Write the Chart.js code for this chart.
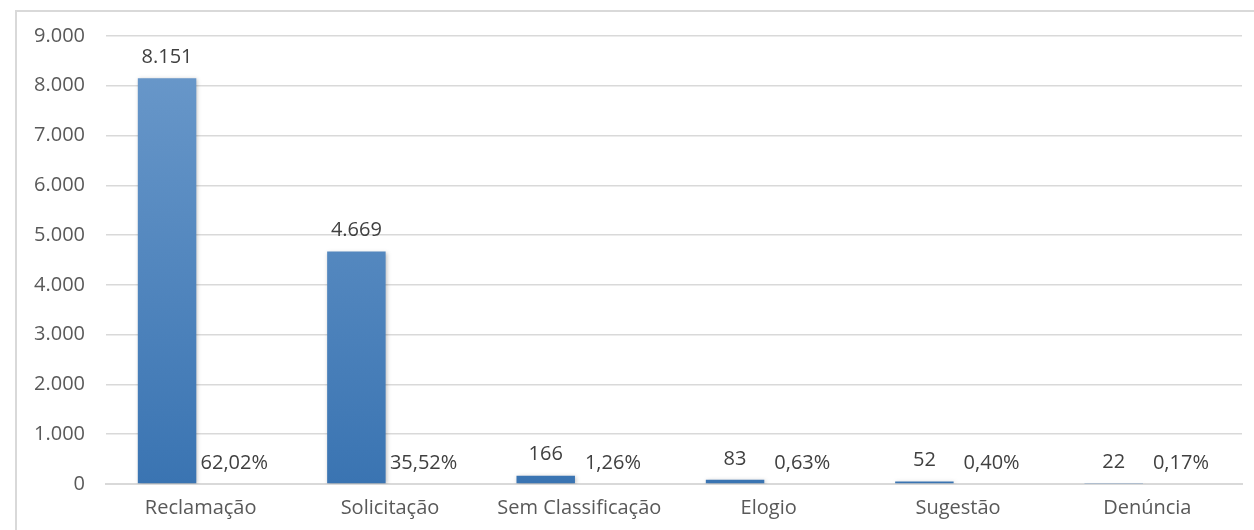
<!DOCTYPE html>
<html>
<head>
<meta charset="utf-8">
<script src="https://cdn.jsdelivr.net/npm/chart.js@4/dist/chart.umd.min.js"></script>
<style>
  html, body { margin: 0; padding: 0; background: #fff; }
  body { width: 1254px; height: 530px; position: relative; overflow: hidden; }
  .frame { position: absolute; left: 15px; top: 10px; right: -2px; bottom: -2px;
    border-left: 2px solid #d9d9d9; border-top: 2px solid #d9d9d9; }
  .wrap { position: absolute; left: 17px; top: 12px; width: 1237px; height: 518px; }
</style>
</head>
<body>
<div class="frame"></div>
<div class="wrap"><canvas id="chart"></canvas></div>
<script>
const categories = ['Reclamação', 'Solicitação', 'Sem Classificação', 'Elogio', 'Sugestão', 'Denúncia']
const counts = [8151, 4669, 166, 83, 52, 22]
const percents = [62.02, 35.52, 1.26, 0.63, 0.40, 0.17]
const yTicks = [0, 1000, 2000, 3000, 4000, 5000, 6000, 7000, 8000, 9000]

const fontFamily = "'Open Sans', 'Noto Sans', sans-serif"
const fontSize = 20

function fmtThousands(v) {
  return String(Math.round(v)).replace(/\B(?=(\d{3})+(?!\d))/g, '.')
}
function fmtPercent(v) {
  return v.toFixed(2).replace('.', ',') + '%'
}

function barGradient(context) {
  const chart = context.chart
  const area = chart.chartArea
  if (!area) return '#4f85c0'
  const g = chart.ctx.createLinearGradient(0, area.top, 0, area.bottom)
  g.addColorStop(0, '#6c9acb')
  g.addColorStop(1, '#3a74b2')
  return g
}

// draws the value labels above each bar
const valueLabels = {
  id: 'valueLabels',
  afterDatasetsDraw(chart) {
    const ctx = chart.ctx
    ctx.save()
    ctx.font = fontSize + 'px ' + fontFamily
    ctx.fillStyle = '#404040'
    ctx.textAlign = 'center'
    ctx.textBaseline = 'middle'
    chart.data.datasets.forEach((ds, i) => {
      const meta = chart.getDatasetMeta(i)
      meta.data.forEach((bar, j) => {
        const text = i === 0 ? fmtThousands(ds.data[j]) : fmtPercent(percents[j])
        ctx.fillText(text, bar.x, bar.y - 21)
      })
    })
    ctx.restore()
  },
}

// soft shadow on the count bars only
const barShadow = {
  id: 'barShadow',
  beforeDatasetDraw(chart, args) {
    const ctx = chart.ctx
    ctx.save()
    if (args.index === 0) {
      ctx.shadowColor = 'rgba(0,0,0,0.25)'
      ctx.shadowBlur = 4
      ctx.shadowOffsetX = 1
      ctx.shadowOffsetY = 1
    }
  },
  afterDatasetDraw(chart) {
    chart.ctx.restore()
  },
}

const ctx = document.getElementById('chart').getContext('2d')
new Chart(ctx, {
  type: 'bar',
  data: {
    labels: categories,
    datasets: [
      {
        label: 'Quantidade',
        data: counts,
        backgroundColor: barGradient,
        categoryPercentage: 0.71,
        barPercentage: 0.87,
      },
      {
        label: 'Percentual',
        data: percents.map((p) => p / 100),
        backgroundColor: 'rgba(0,0,0,0)',
        categoryPercentage: 0.71,
        barPercentage: 0.87,
      },
    ],
  },
  options: {
    responsive: true,
    maintainAspectRatio: false,
    animation: false,
    layout: { padding: { top: 24, right: 12, left: 0, bottom: 0 } },
    plugins: {
      legend: { display: false },
      tooltip: { enabled: false },
    },
    scales: {
      x: {
        grid: { display: false, drawTicks: false },
        border: { color: '#d9d9d9', width: 2 },
        ticks: {
          color: '#595959',
          font: { family: fontFamily, size: fontSize },
          padding: 12,
        },
        afterFit: (scale) => { scale.height = 46 },
      },
      y: {
        min: 0,
        max: 9000,
        afterBuildTicks: (scale) => { scale.ticks = yTicks.map((v) => ({value: v})) },
        grid: { color: '#d9d9d9', lineWidth: 1.5, drawTicks: false },
        border: { display: false },
        ticks: {
          color: '#595959',
          font: { family: fontFamily, size: fontSize },
          padding: 21,
          callback: (v) => fmtThousands(v),
        },
        afterFit: (scale) => {
          scale.width = 89
          scale.paddingTop = 0
          scale.paddingBottom = 0
        },
      },
    },
  },
  plugins: [barShadow, valueLabels],
})
</script>
</body>
</html>
